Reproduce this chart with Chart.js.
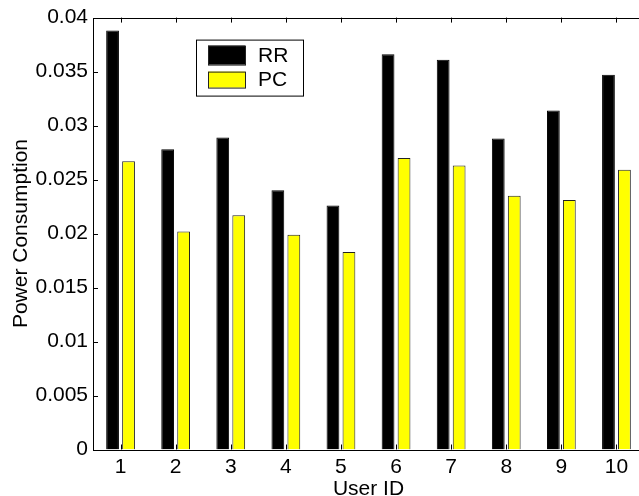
<!DOCTYPE html>
<html>
<head>
<meta charset="utf-8">
<script src="https://cdn.jsdelivr.net/npm/chart.js@4"></script>
<style>
  html, body { margin: 0; padding: 0; background: #fff; overflow: hidden; }
  #wrap { width: 650px; height: 496px; }
</style>
</head>
<body>
<div id="wrap"><canvas id="powerChart" width="650" height="496"></canvas></div>
<script>
// Data
const userIds = ["1", "2", "3", "4", "5", "6", "7", "8", "9", "10"];
const rrValues = [0.0388, 0.0278, 0.0289, 0.0240, 0.0226, 0.0366, 0.0361, 0.0288, 0.0314, 0.0347];
const pcValues = [0.0267, 0.0202, 0.0217, 0.0199, 0.0183, 0.0270, 0.0263, 0.0235, 0.0231, 0.0259];
const yTicks = [0, 0.005, 0.01, 0.015, 0.02, 0.025, 0.03, 0.035, 0.04];

const font = "'Liberation Sans', Arial, Helvetica, sans-serif";

// MATLAB style frame with inward ticks
const framePlugin = {
  id: "frame",
  afterDraw(chart) {
    const ctx = chart.ctx;
    const ca = chart.chartArea;
    const xs = chart.scales.x;
    const ys = chart.scales.y;
    ctx.save();
    ctx.strokeStyle = "#000";
    ctx.lineWidth = 1;
    ctx.beginPath();
    ctx.rect(Math.round(ca.left) + 0.5, Math.round(ca.top) + 0.5,
      Math.round(ca.right - ca.left), Math.round(ca.bottom - ca.top));
    yTicks.forEach((v) => {
      const y = Math.round(ys.getPixelForValue(v)) + 0.5;
      ctx.moveTo(ca.left, y);
      ctx.lineTo(ca.left + 5, y);
      ctx.moveTo(ca.right, y);
      ctx.lineTo(ca.right - 5, y);
    });
    userIds.forEach((id, i) => {
      const x = Math.round(xs.getPixelForValue(i)) + 0.5;
      ctx.moveTo(x, ca.bottom);
      ctx.lineTo(x, ca.bottom - 5);
      ctx.moveTo(x, ca.top);
      ctx.lineTo(x, ca.top + 5);
    });
    ctx.stroke();

    // legend box
    const lx = ca.left + 103, ly = ca.top + 22;
    ctx.fillStyle = "#fff";
    ctx.fillRect(lx, ly, 107, 56);
    ctx.strokeRect(lx + 0.5, ly + 0.5, 107, 56);
    const items = chart.data.datasets;
    const sw = [[6, 19], [32, 16]];
    ctx.font = "21px " + font;
    ctx.textBaseline = "middle";
    ctx.textAlign = "left";
    items.forEach((ds, i) => {
      const sy = ly + sw[i][0];
      ctx.fillStyle = ds.backgroundColor;
      ctx.fillRect(lx + 12, sy, 37, sw[i][1]);
      ctx.strokeStyle = "#222";
      ctx.strokeRect(lx + 12.5, sy + 0.5, 37, sw[i][1]);
      ctx.fillStyle = "#000";
      ctx.fillText(ds.label, lx + 62, sy + sw[i][1] / 2 + 1);
    });
    ctx.restore();
  },
};

new Chart(document.getElementById("powerChart"), {
  type: "bar",
  data: {
    labels: userIds,
    datasets: [
      {
        label: "RR",
        data: rrValues,
        backgroundColor: "#000000",
        borderColor: "#000000",
        borderWidth: 1,
        categoryPercentage: 0.58,
        barPercentage: 0.8,
      },
      {
        label: "PC",
        data: pcValues,
        backgroundColor: "#ffff00",
        borderColor: "#222222",
        borderWidth: 1,
        categoryPercentage: 0.58,
        barPercentage: 0.8,
      },
    ],
  },
  options: {
    responsive: false,
    animation: false,
    layout: { padding: { left: 0, top: 15, right: 6, bottom: 0 } },
    plugins: {
      legend: { display: false },
      tooltip: { enabled: false },
    },
    scales: {
      x: {
        grid: { display: false, drawTicks: false },
        border: { display: false },
        ticks: { color: "#000", padding: 5, font: { family: font, size: 21 } },
        title: {
          display: true,
          text: "User ID",
          color: "#000",
          padding: { top: 0, bottom: -4 },
          font: { family: font, size: 21, lineHeight: 1 },
        },
        afterFit(scale) { scale.height = 46.5; },
      },
      y: {
        min: 0,
        max: 0.04,
        afterBuildTicks(scale) { scale.ticks = yTicks.map((v) => ({ value: v })); },
        grid: { display: false, drawTicks: false },
        border: { display: false },
        ticks: {
          color: "#000",
          padding: 5,
          font: { family: font, size: 21 },
          callback: (v) => String(+Number(v).toFixed(3)),
        },
        title: {
          display: true,
          text: "Power Consumption",
          color: "#000",
          padding: { top: 11, bottom: 0 },
          font: { family: font, size: 21, lineHeight: 1 },
        },
        afterFit(scale) { scale.width = 93; },
      },
    },
  },
  plugins: [framePlugin],
});
</script>
</body>
</html>
